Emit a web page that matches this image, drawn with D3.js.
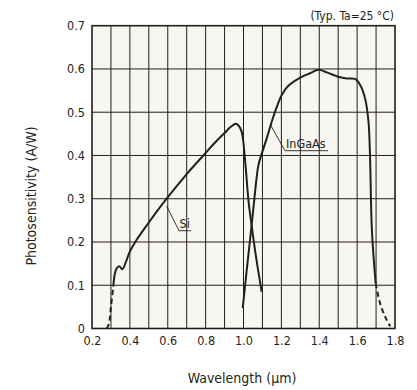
<!DOCTYPE html>
<html><head><meta charset="utf-8">
<script src="https://cdn.jsdelivr.net/npm/d3@7"></script>
<style>body{margin:0;background:#fff}svg{display:block}</style>
</head><body>
<script>
// ---- data ----
const xTicks = [0.2,0.4,0.6,0.8,1.0,1.2,1.4,1.6,1.8];
const yTicks = [0,0.1,0.2,0.3,0.4,0.5,0.6,0.7];
const siDashedX = [0.278,0.29,0.30,0.313];
const siDashedY = [0.0,0.012,0.05,0.10];
const siX = [0.313,0.32,0.33,0.344,0.36,0.38,0.397,0.436,0.5,0.594,0.7,0.788,0.85,0.9,0.93,0.955,0.97,0.99,1.008,1.026,1.044,1.066,1.096];
const siY = [0.10,0.125,0.139,0.144,0.137,0.155,0.175,0.205,0.245,0.30,0.357,0.40,0.43,0.452,0.465,0.473,0.471,0.455,0.39,0.297,0.235,0.166,0.085];
const ingaasX = [0.996,1.017,1.044,1.07,1.079,1.123,1.158,1.202,1.237,1.3,1.352,1.396,1.44,1.5,1.545,1.589,1.616,1.642,1.66,1.668,1.678,1.698];
const ingaasY = [0.047,0.135,0.243,0.351,0.378,0.44,0.49,0.54,0.561,0.58,0.59,0.598,0.592,0.582,0.578,0.577,0.563,0.532,0.478,0.40,0.228,0.104];
const ingaasDashedX = [1.698,1.72,1.75,1.775];
const ingaasDashedY = [0.104,0.06,0.025,0.005];
const labels = [{text:"Si", at:[0.594,0.28]}, {text:"InGaAs", at:[1.14,0.47]}];

const W=417,H=390;
const m={l:92,r:395,t:25.7,b:328.5};
const x=d3.scaleLinear().domain([0.2,1.8]).range([m.l,m.r]);
const y=d3.scaleLinear().domain([0,0.7]).range([m.b,m.t]);
const ink="#231f20";
const font="'DejaVu Sans Condensed','DejaVu Sans',sans-serif";

const svg=d3.select("body").append("svg").attr("width",W).attr("height",H)
  .style("font-family",font);

svg.append("rect").attr("x",x(0.2)).attr("y",y(0.7)).attr("width",x(1.8)-x(0.2)).attr("height",y(0)-y(0.7)).attr("fill","#f7f6f0");

const grid=svg.append("g").attr("stroke",ink).attr("stroke-width",1);
d3.range(3,18).forEach(i=>{const v=i/10; grid.append("line").attr("x1",x(v)).attr("x2",x(v)).attr("y1",y(0)).attr("y2",y(0.7));});
d3.range(1,7).forEach(i=>{const v=i/10; grid.append("line").attr("y1",y(v)).attr("y2",y(v)).attr("x1",x(0.2)).attr("x2",x(1.8));});
svg.append("rect").attr("x",x(0.2)).attr("y",y(0.7)).attr("width",x(1.8)-x(0.2)).attr("height",y(0)-y(0.7))
  .attr("fill","none").attr("stroke",ink).attr("stroke-width",1.6);

// axes
const xa=svg.append("g").attr("transform",`translate(0,${y(0)})`)
  .call(d3.axisBottom(x).tickValues(xTicks).tickFormat(d3.format(".1f")).tickSize(0).tickPadding(8));
const ya=svg.append("g").attr("transform",`translate(${x(0.2)},0)`)
  .call(d3.axisLeft(y).tickValues(yTicks).tickFormat(d=>d===0?"0":d3.format(".1f")(d)).tickSize(0).tickPadding(7));
[xa,ya].forEach(a=>{a.select(".domain").remove();a.selectAll("text").attr("font-size",12.5).attr("fill",ink).attr("font-family",font);});

// curves
const line=d3.line().x(d=>x(d[0])).y(d=>y(d[1])).curve(d3.curveCatmullRom.alpha(0.5));
const zip=(a,b)=>a.map((v,i)=>[v,b[i]]);
const g=svg.append("g").attr("fill","none").attr("stroke",ink).attr("stroke-width",2).attr("stroke-linejoin","round");
g.append("path").attr("d",line(zip(siX,siY)));
g.append("path").attr("d",line(zip(ingaasX,ingaasY)));
g.append("path").attr("d",line(zip(siDashedX,siDashedY))).attr("stroke-dasharray","5,3.5");
g.append("path").attr("d",line(zip(ingaasDashedX,ingaasDashedY))).attr("stroke-dasharray","5,3.5");

// labels with leaders
const lab=svg.append("g").attr("font-size",12.5).attr("fill",ink);
// Si
lab.append("path").attr("d",`M${x(0.594)},${y(0.283)} L179,230.7 L191,230.7`).attr("fill","none").attr("stroke",ink).attr("stroke-width",0.9);
lab.append("text").attr("x",179.5).attr("y",228).text(labels[0].text);
// InGaAs
lab.append("path").attr("d",`M270,124 L285,150.7 L328,150.7`).attr("fill","none").attr("stroke",ink).attr("stroke-width",0.9);
lab.append("text").attr("x",286).attr("y",147.5).text(labels[1].text);

svg.append("text").attr("x",394).attr("y",20).attr("text-anchor","end").attr("font-size",12).attr("fill",ink).text("(Typ. Ta=25 °C)");
svg.append("text").attr("x",242).attr("y",383).attr("text-anchor","middle").attr("font-size",14).attr("fill",ink).text("Wavelength (μm)");
svg.append("text").attr("transform","translate(36,196) rotate(-90)").attr("text-anchor","middle").attr("font-size",14).attr("fill",ink).text("Photosensitivity (A/W)");
</script>
</body></html>
